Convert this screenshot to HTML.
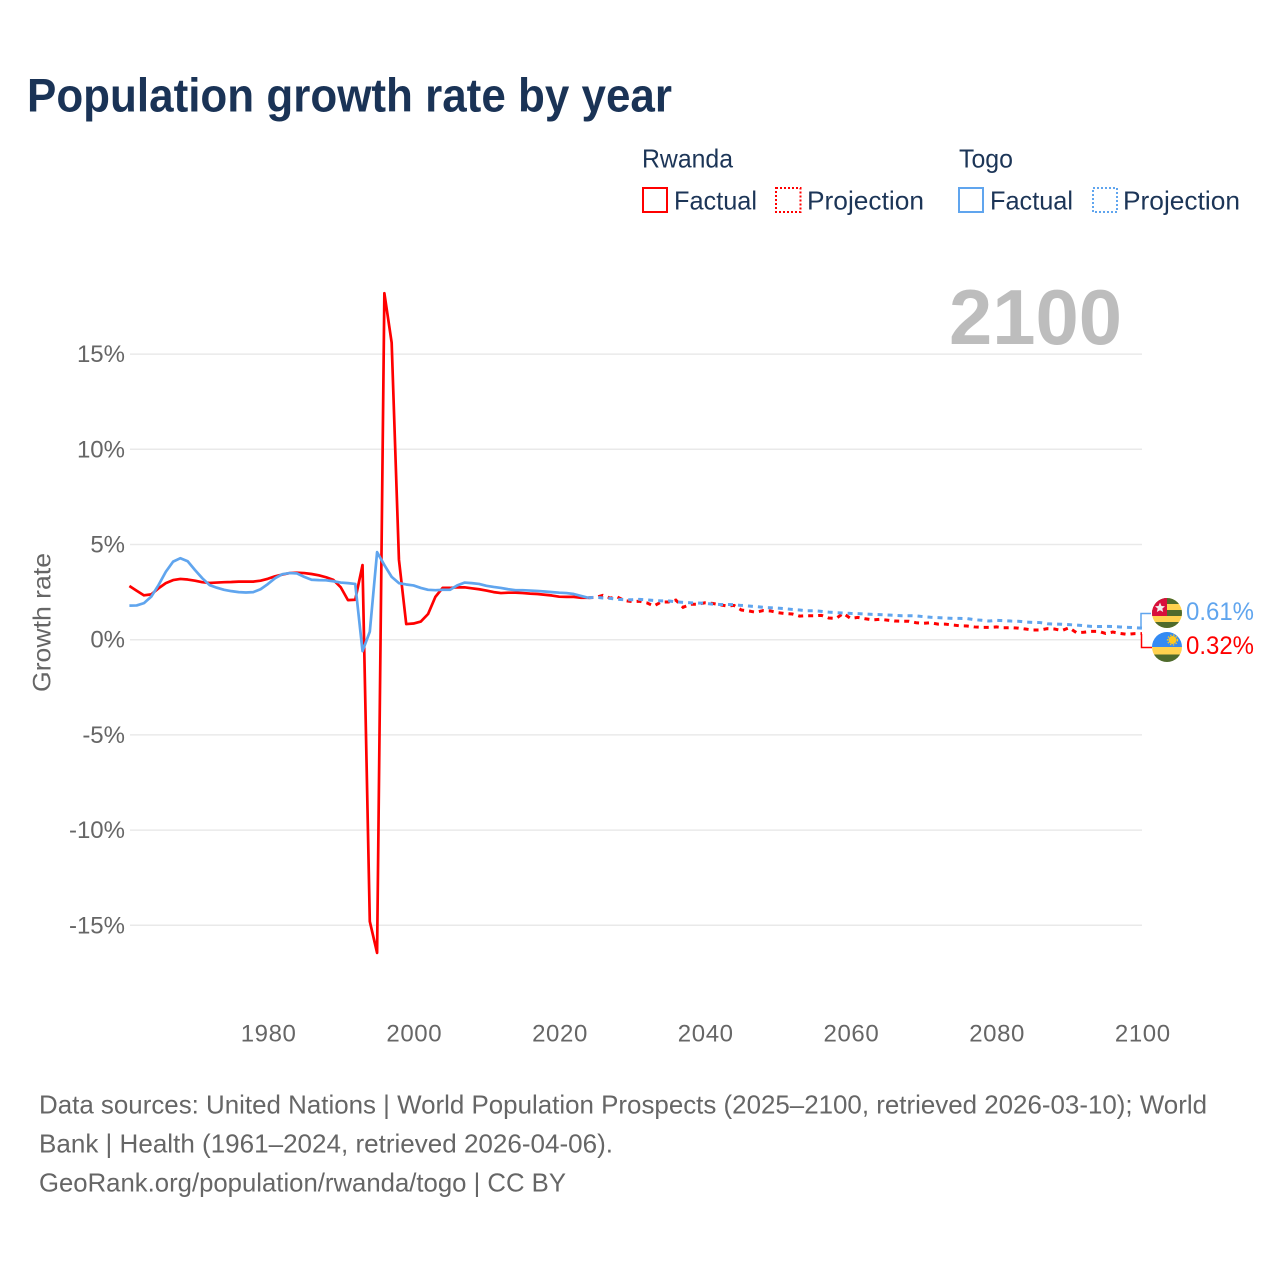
<!DOCTYPE html>
<html lang="en">
<head>
<meta charset="utf-8">
<title>Population growth rate by year</title>
<style>
html,body{margin:0;padding:0;background:#fff;width:1280px;height:1280px;overflow:hidden}
svg{display:block;font-family:"Liberation Sans",sans-serif}
</style>
</head>
<body>
<svg id="chart" xmlns="http://www.w3.org/2000/svg" width="1280" height="1280" viewBox="0 0 1280 1280">
  <defs>
    <clipPath id="flag-clip-togo"><circle cx="1167" cy="613" r="15"/></clipPath>
    <clipPath id="flag-clip-rwanda"><circle cx="1167" cy="647" r="15"/></clipPath>
  </defs>
  <text x="27" y="111.500" font-size="47" font-weight="700" fill="#1a3356" textLength="645" lengthAdjust="spacingAndGlyphs">Population growth rate by year</text>

  <g font-size="26" fill="#1c3557">
    <text x="642" y="167.500" textLength="91" lengthAdjust="spacingAndGlyphs">Rwanda</text>
    <text x="959" y="167.500" textLength="54" lengthAdjust="spacingAndGlyphs">Togo</text>
    <rect x="643" y="188" width="24" height="24" fill="none" stroke="#ff0000" stroke-width="2"/>
    <text x="674" y="209.500" textLength="83" lengthAdjust="spacingAndGlyphs">Factual</text>
    <rect x="776" y="188" width="24.500" height="24" fill="none" stroke="#ff0000" stroke-width="2" stroke-dasharray="2 2"/>
    <text x="807" y="209.500" textLength="117" lengthAdjust="spacingAndGlyphs">Projection</text>
    <rect x="959" y="188" width="24" height="24" fill="none" stroke="#60a5ee" stroke-width="2"/>
    <text x="990" y="209.500" textLength="83" lengthAdjust="spacingAndGlyphs">Factual</text>
    <rect x="1093" y="188" width="24" height="24" fill="none" stroke="#60a5ee" stroke-width="2" stroke-dasharray="2 2"/>
    <text x="1123" y="209.500" textLength="117" lengthAdjust="spacingAndGlyphs">Projection</text>
  </g>

  <text x="949" y="344" font-size="78" font-weight="700" fill="#bdbdbd" textLength="173" lengthAdjust="spacingAndGlyphs">2100</text>

  <g id="grid"></g>
  <g id="yticks" font-size="24" fill="#666666" text-anchor="end"></g>
  <g id="xticks" font-size="24" fill="#666666" text-anchor="middle"></g>
  <text transform="translate(50.500 692) rotate(-90)" font-size="25" fill="#666666" textLength="139" lengthAdjust="spacingAndGlyphs">Growth rate</text>
  <g id="series"></g>

  <path d="M1141 628V613.500H1151" fill="none" stroke="#60a5ee" stroke-width="1.500"/>
  <path d="M1141.500 634V647.500H1152" fill="none" stroke="#ff0000" stroke-width="1.500"/>

  <g clip-path="url(#flag-clip-togo)">
    <rect x="1152" y="598" width="30" height="30" fill="#ffd24f"/>
    <rect x="1152" y="598" width="30" height="6" fill="#4f6b2c"/>
    <rect x="1152" y="610" width="30" height="6" fill="#4f6b2c"/>
    <rect x="1152" y="622" width="30" height="6" fill="#4f6b2c"/>
    <rect x="1152" y="598" width="15" height="18" fill="#d80f3c"/>
    <polygon points="1160,602.500 1161.500,606 1165,606.300 1162.300,608.600 1163.200,612 1160,610.200 1156.800,612 1157.700,608.600 1155,606.300 1158.500,606" fill="#f0f0f0"/>
  </g>
  <g clip-path="url(#flag-clip-rwanda)">
    <rect x="1152" y="632" width="30" height="15" fill="#338af3"/>
    <rect x="1152" y="647" width="30" height="7.500" fill="#ffd24f"/>
    <rect x="1152" y="654.500" width="30" height="8" fill="#4f6b2c"/>
    <circle cx="1172.500" cy="640" r="4" fill="#ffc81e"/>
    <circle cx="1172.500" cy="640" r="5" fill="none" stroke="#ffc81e" stroke-width="1.200" stroke-dasharray="1.500 1.500"/>
  </g>
  <text x="1186" y="620" font-size="25" fill="#60a5ee" textLength="68" lengthAdjust="spacingAndGlyphs">0.61%</text>
  <text x="1186" y="654" font-size="25" fill="#ff0000" textLength="68" lengthAdjust="spacingAndGlyphs">0.32%</text>

  <g font-size="26" fill="#666666">
    <text x="39" y="1113.500" textLength="1168" lengthAdjust="spacingAndGlyphs">Data sources: United Nations | World Population Prospects (2025–2100, retrieved 2026-03-10); World</text>
    <text x="39" y="1152.500" textLength="574" lengthAdjust="spacingAndGlyphs">Bank | Health (1961–2024, retrieved 2026-04-06).</text>
    <text x="39" y="1191.500" textLength="527" lengthAdjust="spacingAndGlyphs">GeoRank.org/population/rwanda/togo | CC BY</text>
  </g>
</svg>
<script>
const yTickValues = [15, 10, 5, 0, -5, -10, -15];
const xTickYears = [1980, 2000, 2020, 2040, 2060, 2080, 2100];
const factualStartYear = 1961;
const projectionStartYear = 2024;

const rwandaFactual = [2.82,2.57,2.33,2.38,2.70,2.97,3.13,3.19,3.16,3.10,3.02,2.98,3.00,3.02,3.03,3.05,3.05,3.05,3.10,3.20,3.33,3.42,3.50,3.52,3.50,3.45,3.38,3.28,3.14,2.76,2.08,2.10,3.92,-14.8,-16.45,18.2,15.6,4.2,0.82,0.85,0.95,1.35,2.25,2.72,2.72,2.75,2.75,2.70,2.65,2.58,2.50,2.45,2.47,2.47,2.45,2.42,2.40,2.36,2.32,2.26,2.25,2.25,2.20,2.20];
const togoFactual = [1.79,1.80,1.92,2.26,2.87,3.57,4.10,4.28,4.12,3.66,3.23,2.87,2.73,2.62,2.55,2.50,2.48,2.50,2.65,2.92,3.23,3.44,3.50,3.48,3.30,3.15,3.13,3.12,3.07,3.00,2.97,2.93,-0.60,0.42,4.60,3.92,3.30,2.97,2.90,2.85,2.72,2.62,2.60,2.62,2.62,2.85,3.00,2.97,2.93,2.83,2.77,2.72,2.65,2.60,2.60,2.58,2.56,2.53,2.50,2.47,2.45,2.40,2.30,2.20];
const rwandaProjection = [2.20,2.22,2.33,2.19,2.24,2.05,2.00,2.02,1.94,1.77,1.98,1.98,2.08,1.70,1.86,1.86,1.94,1.91,1.84,1.77,1.80,1.56,1.51,1.44,1.53,1.51,1.42,1.37,1.35,1.24,1.26,1.26,1.28,1.14,1.12,1.38,1.12,1.17,1.10,1.04,1.07,1.03,0.98,0.97,0.97,0.89,0.86,0.89,0.82,0.82,0.77,0.73,0.72,0.67,0.65,0.65,0.67,0.63,0.63,0.61,0.56,0.51,0.51,0.58,0.56,0.48,0.63,0.37,0.39,0.44,0.44,0.33,0.40,0.33,0.28,0.32,0.32];
const togoProjection = [2.20,2.23,2.19,2.17,2.12,2.10,2.10,2.12,2.09,2.06,2.04,2.04,1.99,1.96,1.94,1.93,1.91,1.87,1.85,1.85,1.84,1.80,1.77,1.74,1.70,1.68,1.66,1.63,1.59,1.56,1.52,1.52,1.49,1.45,1.42,1.40,1.38,1.37,1.35,1.33,1.32,1.30,1.28,1.26,1.26,1.25,1.21,1.18,1.16,1.14,1.12,1.12,1.11,1.05,1.02,0.98,1.02,1.00,0.98,0.97,0.93,0.91,0.90,0.84,0.82,0.81,0.79,0.77,0.74,0.70,0.69,0.70,0.69,0.67,0.65,0.63,0.61];

const SVG_NS = 'http://www.w3.org/2000/svg';
function xScale(year) { return 129.4 + (year - 1961) * (1142 - 129.4) / 139; }
function yScale(value) { return 639.7 - value * 19.04; }

const gridGroup = document.getElementById('grid');
const yTickGroup = document.getElementById('yticks');
const xTickGroup = document.getElementById('xticks');
const seriesGroup = document.getElementById('series');

yTickValues.forEach(function (v) {
  const line = document.createElementNS(SVG_NS, 'line');
  
  
  line.setAttribute('x1', 130);
  line.setAttribute('x2', 1142);
  line.setAttribute('y1', yScale(v));
  line.setAttribute('y2', yScale(v));
  line.setAttribute('stroke', '#e9e9e9');
  line.setAttribute('stroke-width', 1.5);
  gridGroup.appendChild(line);
  const label = document.createElementNS(SVG_NS, 'text');
  
  
  label.setAttribute('x', 125);
  label.setAttribute('y', yScale(v) + 8);
  label.textContent = v + '%';
  yTickGroup.appendChild(label);
});

xTickYears.forEach(function (year) {
  const label = document.createElementNS(SVG_NS, 'text');
  
  
  label.setAttribute('x', xScale(year) + 0.8);
  label.setAttribute('y', 1041.5);
  label.setAttribute('letter-spacing', '0.6');
  label.textContent = year;
  xTickGroup.appendChild(label);
});

function linePath(values, startYear) {
  return values.map(function (v, i) {
    return (i ? 'L' : 'M') + xScale(startYear + i).toFixed(2) + ' ' + yScale(v).toFixed(2);
  }).join('');
}

const rwandaProjectionLine = document.createElementNS(SVG_NS, 'path');


rwandaProjectionLine.setAttribute('d', linePath(rwandaProjection, projectionStartYear));
rwandaProjectionLine.setAttribute('fill', 'none');
rwandaProjectionLine.setAttribute('stroke', '#ff0000');
rwandaProjectionLine.setAttribute('stroke-width', 3);
rwandaProjectionLine.setAttribute('stroke-dasharray', '5 5');
seriesGroup.appendChild(rwandaProjectionLine);

const togoProjectionLine = document.createElementNS(SVG_NS, 'path');


togoProjectionLine.setAttribute('d', linePath(togoProjection, projectionStartYear));
togoProjectionLine.setAttribute('fill', 'none');
togoProjectionLine.setAttribute('stroke', '#60a5ee');
togoProjectionLine.setAttribute('stroke-width', 3);
togoProjectionLine.setAttribute('stroke-dasharray', '5 5');
seriesGroup.appendChild(togoProjectionLine);

const rwandaFactualLine = document.createElementNS(SVG_NS, 'path');


rwandaFactualLine.setAttribute('d', linePath(rwandaFactual, factualStartYear));
rwandaFactualLine.setAttribute('fill', 'none');
rwandaFactualLine.setAttribute('stroke', '#ff0000');
rwandaFactualLine.setAttribute('stroke-width', 2.7);
rwandaFactualLine.setAttribute('stroke-linejoin', 'round');
seriesGroup.appendChild(rwandaFactualLine);

const togoFactualLine = document.createElementNS(SVG_NS, 'path');


togoFactualLine.setAttribute('d', linePath(togoFactual, factualStartYear));
togoFactualLine.setAttribute('fill', 'none');
togoFactualLine.setAttribute('stroke', '#60a5ee');
togoFactualLine.setAttribute('stroke-width', 2.7);
togoFactualLine.setAttribute('stroke-linejoin', 'round');
seriesGroup.appendChild(togoFactualLine);
</script>
</body>
</html>
